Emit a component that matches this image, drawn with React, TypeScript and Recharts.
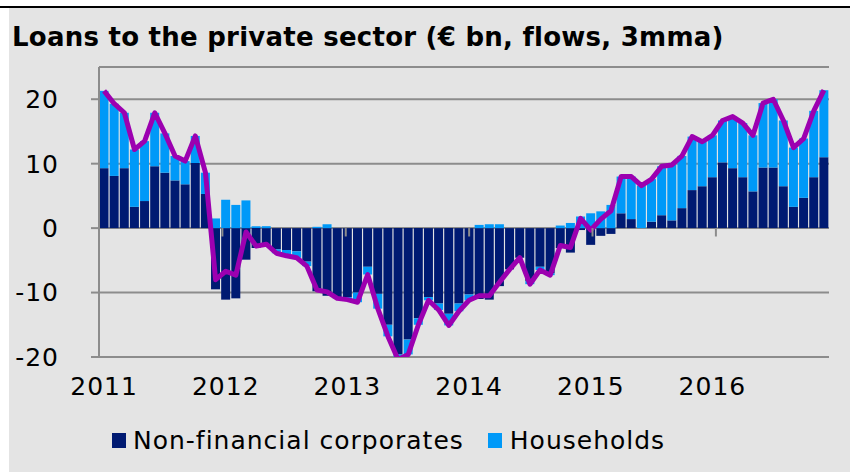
import React from 'react';
import { ComposedChart, Bar, Line, XAxis, YAxis, CartesianGrid, ReferenceLine, Legend } from 'recharts';

// monthly flows, Jan 2011 .. Dec 2016 (€ bn, 3mma)
const years = ['2011', '2012', '2013', '2014', '2015', '2016'];

const corporates = [
    9.3, 8.1, 9.3, 3.3, 4.2, 9.6, 8.6, 7.4, 6.8, 10.1, 5.3, -9.5,
    -11.1, -10.9, -4.9, -3.1, -2.8, -3.3, -3.4, -3.6, -5.2, -9.8, -10.5, -10.8,
    -10.7, -10.0, -6.0, -10.2, -15.0, -19.6, -17.3, -14.0, -10.7, -11.7, -13.3, -11.7,
    -10.3, -11.0, -11.1, -9.0, -6.4, -4.6, -8.2, -6.0, -7.0, -3.1, -3.8, -0.3,
    -2.6, -1.2, -0.9, 2.3, 1.4, 0.0, 1.0, 2.0, 1.2, 3.1, 5.9, 6.5,
    7.9, 10.2, 9.3, 7.9, 5.7, 9.4, 9.4, 6.5, 3.3, 4.7, 7.9, 11.0,
];

const households = [
    12.0, 11.2, 8.6, 8.9, 9.3, 8.3, 6.1, 3.8, 3.6, 4.2, 3.3, 1.5,
    4.4, 3.6, 4.3, 0.3, 0.3, -0.6, -0.9, -1.0, -0.7, 0.2, 0.6, -0.1,
    -0.4, -1.5, -1.2, -2.3, -1.8, -0.8, -2.3, -1.0, -0.5, -1.0, -1.8, -1.2,
    -0.9, 0.5, 0.6, 0.6, 0.0, 0.0, -0.5, -0.5, -0.3, 0.4, 0.8, 1.8,
    2.3, 2.6, 3.6, 5.7, 6.6, 6.6, 6.6, 7.6, 8.6, 8.1, 8.3, 6.9,
    6.5, 6.5, 8.0, 8.4, 8.7, 10.0, 10.6, 10.2, 9.2, 9.2, 10.3, 10.4,
];

const yTicks = [-20, -10, 0, 10, 20];
const yearBoundaries = [12, 24, 36, 48, 60, 72];

const NAVY = '#001a72';
const LIGHT = '#0099f8';
const PURPLE = '#9c00b0';
const GRID = '#8c8c8c';
const FONT = '"DejaVu Sans", Verdana, sans-serif';

const chartData = corporates.map((nfc, i) => ({
    month: `${years[Math.floor(i / 12)]}-${String((i % 12) + 1).padStart(2, '0')}`,
    nfc,
    hh: households[i],
    total: Math.round((nfc + households[i]) * 10) / 10,
}));

const renderLegend = () => (
    <div style={{ display: 'flex', alignItems: 'center', fontFamily: FONT, fontSize: 25, letterSpacing: 1, color: '#000', whiteSpace: 'nowrap' }}>
        <span style={{ display: 'inline-block', width: 14, height: 15, background: NAVY, marginRight: 7 }} />
        <span>Non-financial corporates</span>
        <span style={{ display: 'inline-block', width: 14, height: 15, background: LIGHT, marginLeft: 24, marginRight: 8 }} />
        <span>Households</span>
    </div>
);

export default function App() {
    return (
        <div style={{ position: 'absolute', left: 0, top: 0, width: 850, height: 472, background: '#fff', overflow: 'hidden' }}>
            <div style={{ position: 'absolute', left: 0, top: 6, width: 850, height: 2, background: '#000' }} />
            <div style={{ position: 'absolute', left: 9, top: 8, right: 0, bottom: 0, background: '#e4e4e4' }} />
            <div style={{ position: 'absolute', left: 12, top: 22, fontFamily: FONT, fontWeight: 'bold', fontSize: 26, letterSpacing: 0.25, color: '#000', whiteSpace: 'nowrap' }}>
                Loans to the private sector (€ bn, flows, 3mma)
            </div>
            <div style={{ position: 'absolute', left: 0, top: 0 }}>
                <ComposedChart
                    width={850}
                    height={472}
                    data={chartData}
                    stackOffset="sign"
                    barCategoryGap={0.5}
                    margin={{ top: 67, right: 21, bottom: 0, left: 0 }}
                >
                    <CartesianGrid horizontal vertical={false} stroke={GRID} strokeWidth={2} />
                    <XAxis
                        dataKey="month"
                        interval={11}
                        height={115}
                        axisLine={false}
                        tickLine={false}
                        tickSize={0}
                        tickMargin={20}
                        tickFormatter={(v: string) => v.slice(0, 4)}
                        tick={{ fill: '#000', fontSize: 25, fontFamily: FONT, letterSpacing: 1 }}
                    />
                    <XAxis xAxisId="yr" type="number" domain={[0, 72]} hide />
                    <YAxis
                        width={99}
                        domain={[-20, 25]}
                        ticks={yTicks}
                        allowDataOverflow
                        axisLine={{ stroke: GRID, strokeWidth: 2 }}
                        tickLine={{ stroke: GRID, strokeWidth: 2 }}
                        tickSize={8}
                        tickMargin={32}
                        tick={{ fill: '#000', fontSize: 25, fontFamily: FONT, letterSpacing: 1 }}
                    />
                    <Bar dataKey="nfc" name="Non-financial corporates" stackId="a" fill={NAVY} isAnimationActive={false} />
                    <Bar dataKey="hh" name="Households" stackId="a" fill={LIGHT} isAnimationActive={false} />
                    <Line
                        dataKey="total"
                        type="linear"
                        stroke={PURPLE}
                        strokeWidth={5}
                        strokeLinejoin="round"
                        dot={false}
                        activeDot={false}
                        legendType="none"
                        isAnimationActive={false}
                    />
                    {yearBoundaries.map((b) => (
                        <ReferenceLine
                            key={b}
                            xAxisId="yr"
                            segment={[{ x: b, y: 0 }, { x: b, y: -1.3 }]}
                            stroke={GRID}
                            strokeWidth={2}
                        />
                    ))}
                    <Legend
                        layout="vertical"
                        align="center"
                        verticalAlign="middle"
                        content={renderLegend}
                        wrapperStyle={{ left: 112, top: 426, width: 640 }}
                    />
                </ComposedChart>
            </div>
        </div>
    );
}
